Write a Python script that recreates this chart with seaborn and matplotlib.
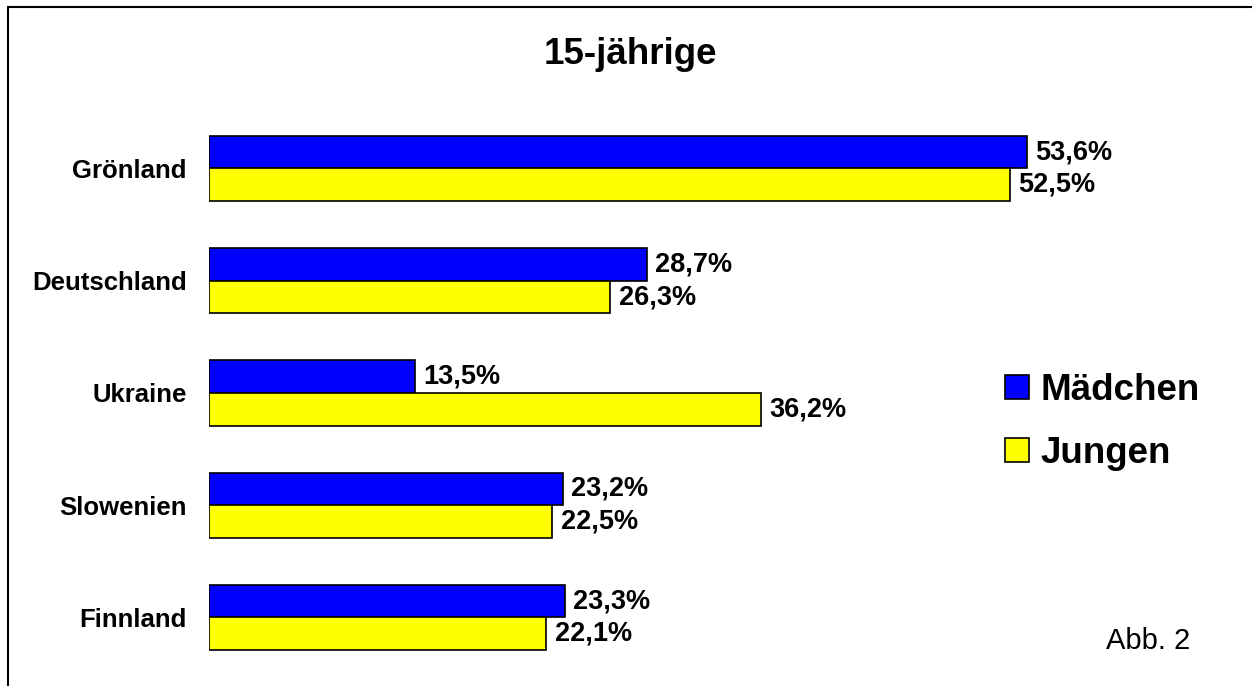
import matplotlib
matplotlib.use("Agg")
import seaborn as sns
import matplotlib.pyplot as plt
from matplotlib.lines import Line2D
from matplotlib.patches import Patch
import pandas

sns.set_style("white")
plt.rcParams['font.family'] = ['Liberation Sans', 'DejaVu Sans']
plt.rcParams['text.color'] = 'black'
plt.rcParams['ytick.color'] = 'black'

laender = ["Grönland", "Deutschland", "Ukraine", "Slowenien", "Finnland"]
maedchen = [53.6, 28.7, 13.5, 23.2, 23.3]
jungen = [52.5, 26.3, 36.2, 22.5, 22.1]
gruppen = ["Mädchen", "Jungen"]
farben = ["#0000FF", "#FFFF00"]

data = pandas.DataFrame({
    "Land": laender * 2,
    "Wert": maedchen + jungen,
    "Gruppe": [gruppen[0]] * len(laender) + [gruppen[1]] * len(laender),
})

fig = plt.figure(figsize=(12.52, 6.86), dpi=100)
ax = fig.add_axes([0.1669, 0.0181, 0.7313, 0.8181])

sns.barplot(data=data, x="Wert", y="Land", hue="Gruppe", hue_order=gruppen,
            palette=farben, saturation=1, width=0.58, edgecolor="black",
            linewidth=1.2, legend=False, ax=ax)

for cont in ax.containers:
    ax.bar_label(cont, labels=[f"{v:.1f}%".replace(".", ",") for v in cont.datavalues],
                 padding=6, fontsize=19.5, fontweight="bold", color="black")

ax.set_xlim(0, 60)
ax.set_ylim(4.5, -0.5)
ax.set(xlabel="", ylabel="")
ax.set_xticks([])
ax.tick_params(axis="y", length=0, pad=16)
for t in ax.get_yticklabels():
    t.set_fontsize(18.5)
    t.set_fontweight("bold")
sns.despine(ax=ax, left=True, bottom=True)

fig.text(630 / 1252, 1 - 54 / 686, "15-jährige", ha="center", va="center",
         fontsize=26.5, fontweight="bold")
fig.text(1148 / 1252, 1 - 641 / 686, "Abb. 2", ha="center", va="center", fontsize=21)

handles = [Patch(facecolor=c, edgecolor="black", linewidth=1.2) for c in farben]
fig.legend(handles, gruppen, loc="upper left", bbox_to_anchor=(1005 / 1252, 1 - 373 / 686),
           frameon=False, prop={"size": 26.5, "weight": "bold"}, handlelength=0.66,
           handleheight=0.66, handletextpad=0.3, labelspacing=0.76,
           borderpad=0, borderaxespad=0)

# Rahmen oben und links
fig.add_artist(Line2D([8 / 1252, 1], [1 - 6.5 / 686, 1 - 6.5 / 686],
                      transform=fig.transFigure, color="black", lw=1.5))
fig.add_artist(Line2D([8 / 1252, 8 / 1252], [0, 1 - 6.5 / 686],
                      transform=fig.transFigure, color="black", lw=1.5))

fig.savefig("out.png", dpi=100)
